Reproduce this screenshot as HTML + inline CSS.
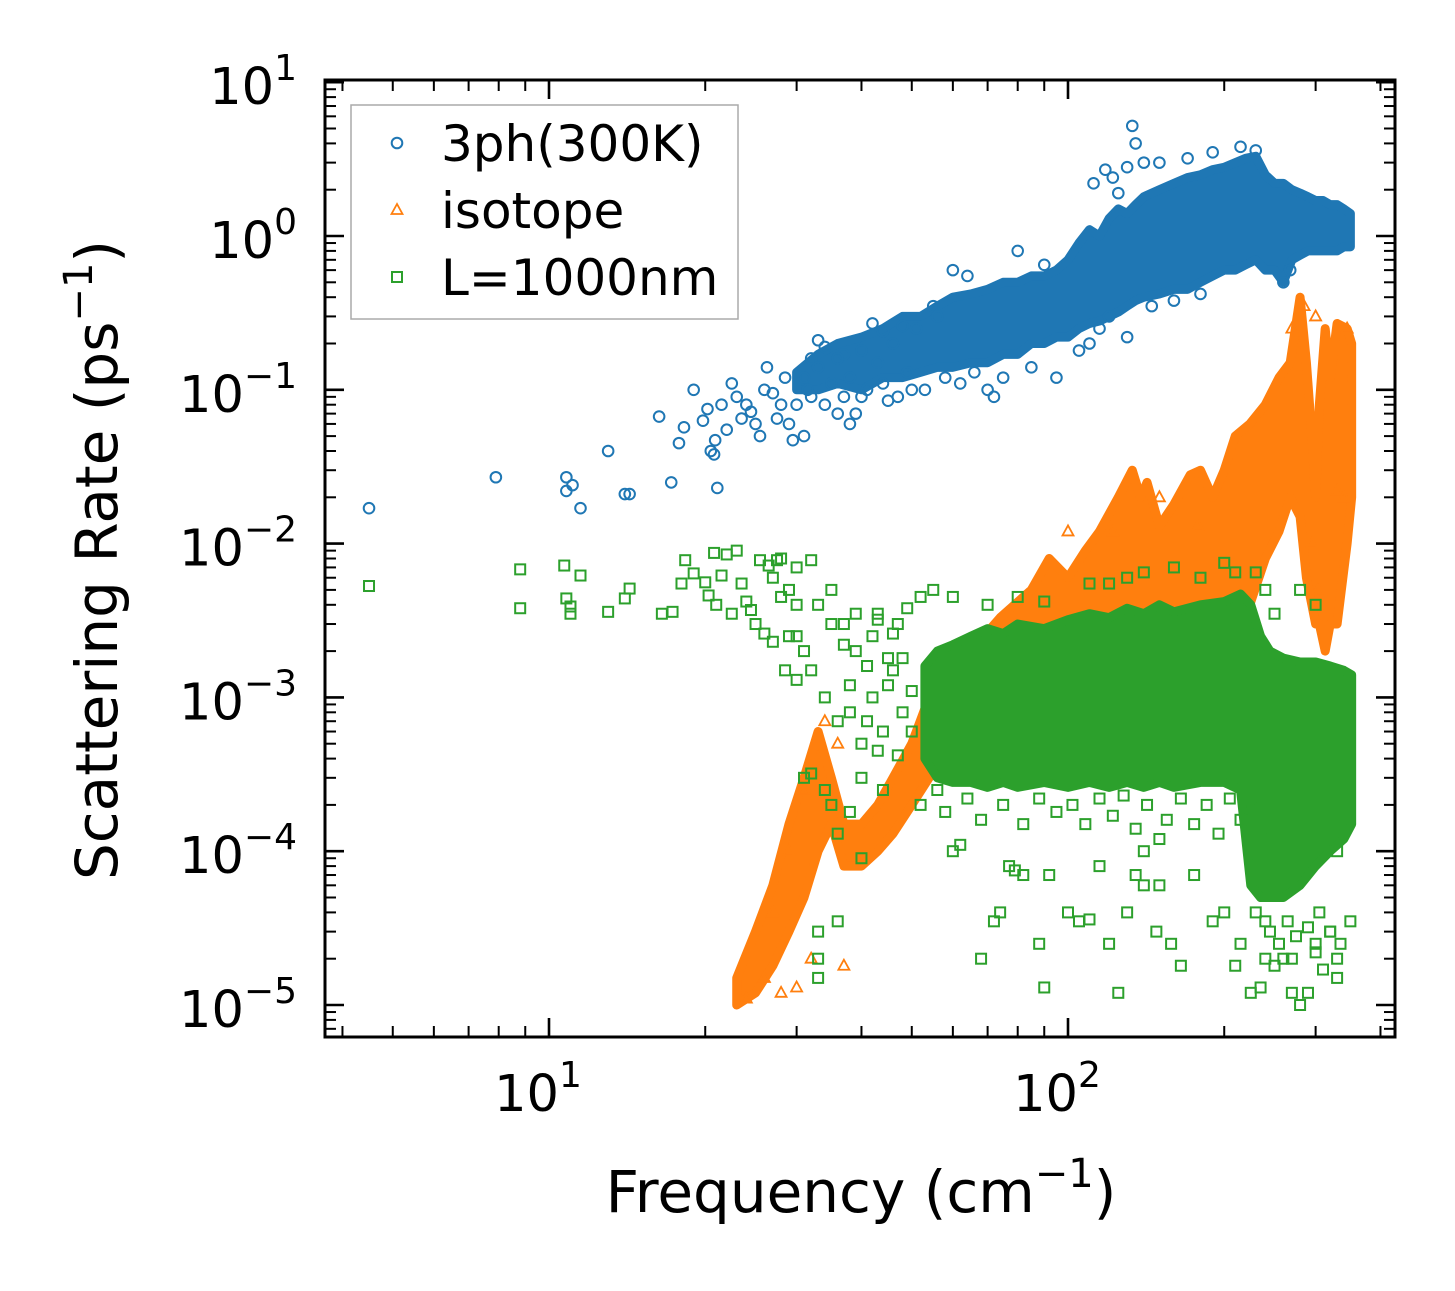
<!DOCTYPE html>
<html><head><meta charset="utf-8"><style>
html,body{margin:0;padding:0;background:#fff;}
svg text{font-family:"DejaVu Sans","Liberation Sans",sans-serif;fill:#000;}
</style></head><body>
<svg id="chart" width="1455" height="1286" viewBox="0 0 1455 1286" xmlns="http://www.w3.org/2000/svg">
<rect width="1455" height="1286" fill="#fff"/>
<g id="plot"></g>
<g id="axes"></g>
</svg>
<script>
// ---------- data ----------
const blueEnvF  = [30,33,36,40,44,48,52,56,60,65,70,75,80,85,90,95,100,105,110,115,120,125,130,135,140,150,160,170,180,190,200,210,220,230,240,250,260,270,280,290,300,310,320,330,340,350];
const blueEnvLo = [.1,.1,.11,.1,.12,.12,.13,.14,.14,.15,.15,.17,.17,.2,.2,.22,.22,.25,.27,.28,.3,.32,.35,.38,.4,.42,.45,.45,.5,.55,.6,.6,.65,.7,.6,.6,.5,.7,.75,.8,.8,.8,.8,.8,.85,.85];
const blueEnvHi = [.13,.17,.2,.22,.25,.3,.3,.35,.4,.42,.45,.5,.5,.55,.55,.6,.7,.9,1.1,1.0,1.3,1.5,1.4,1.6,1.8,2.0,2.2,2.4,2.5,2.7,2.8,3.0,3.2,3.3,2.5,2.2,2.2,2.0,1.9,1.8,1.7,1.7,1.6,1.6,1.5,1.4];
const bluePtsF = [4.5,7.9,10.8,10.8,11.1,11.5,13,14,14.3,16.3,17.2,17.8,18.2,19,19.8,20.2,20.5,20.8,20.9,21.1,21.5,22,22.5,23,23.5,24,24.5,25,25.5,26,26.3,27,27.5,28,28.5,29,29.5,30,31,31.5,32,33,
 112,118,122,130,133,135,140,125,150,170,190,215,230,260,268,95,85,72,60,64,80,70,50,45,40,38,36,42,55,90,130,34,37,44,48,
 31,32,33,34,35,36,37,38,39,40,41,43,44,46,47,49,51,53,56,58,62,66,75,110,115,120,105,145,160,180];
const bluePtsY = [0.017,0.027,0.027,0.022,0.024,0.017,0.04,0.021,0.021,0.067,0.025,0.045,0.057,0.1,0.063,0.075,0.04,0.038,0.047,0.023,0.08,0.055,0.11,0.09,0.065,0.08,0.072,0.06,0.05,0.1,0.14,0.095,0.065,0.08,0.12,0.06,0.047,0.08,0.05,0.1,0.16,0.21,
 2.2,2.7,2.4,2.8,5.2,4.0,3.0,1.9,3.0,3.2,3.5,3.8,3.6,0.5,0.6,0.12,0.14,0.09,0.6,0.55,0.8,0.1,0.1,0.085,0.09,0.06,0.07,0.27,0.35,0.65,0.22,0.19,0.17,0.24,0.26,
 0.12,0.09,0.14,0.08,0.11,0.16,0.09,0.12,0.07,0.18,0.1,0.15,0.11,0.2,0.09,0.13,0.25,0.1,0.3,0.12,0.11,0.13,0.12,0.2,0.25,0.3,0.18,0.35,0.38,0.42];

const orEnvF  = [23,25,27,29,31,33,35,37,40,43,46,50,54,58,65,74,85,92,100,108,115,125,133,138,142,150,160,172,180,190,200,210,224,240,255,268,280,288,295,300,305,313,320,330,345,352];
const orEnvLo = [1e-5,1.2e-5,1.8e-5,3e-5,5e-5,1e-4,1.5e-4,8e-5,8e-5,1e-4,1.3e-4,2e-4,3e-4,4e-4,5e-4,6e-4,8e-4,1e-3,1e-3,1.2e-3,1.5e-3,2e-3,2e-3,2e-3,2.5e-3,2.5e-3,3e-3,3e-3,3e-3,3.5e-3,4e-3,4e-3,4e-3,8e-3,1.2e-2,2e-2,1.5e-2,6e-3,4e-3,3e-3,3e-3,2e-3,3e-3,3e-3,1e-2,2e-2];
const orEnvHi = [1.5e-5,3e-5,6e-5,1.5e-4,3e-4,6e-4,3e-4,1.5e-4,1.5e-4,2e-4,3e-4,5e-4,1e-3,1.5e-3,2e-3,3.3e-3,5e-3,8e-3,6e-3,9e-3,1.2e-2,2e-2,3e-2,2e-2,2.5e-2,1.3e-2,1.8e-2,2.8e-2,3e-2,2e-2,3e-2,5e-2,6e-2,8e-2,1.2e-1,1.5e-1,4e-1,1.5e-1,5e-2,2e-2,8e-2,2.5e-1,1.2e-1,2.7e-1,2.5e-1,2e-1];
const orPtsF = [24,26,28,30,32,37,100,122,150,178,300,330,340,295,303,34,36,31,29,27,270,285,345];
const orPtsY = [1.1e-5,1.5e-5,1.2e-5,1.3e-5,2e-5,1.8e-5,0.012,0.012,0.02,0.013,0.3,0.022,0.02,0.01,0.005,7e-4,5e-4,2.5e-4,1e-4,4e-5,0.25,0.35,0.25];

const grEnvF  = [53,56,60,65,70,75,80,90,100,110,120,130,140,150,160,180,200,215,225,235,245,260,280,300,320,340,352];
const grEnvLo = [4e-4,3e-4,2.8e-4,2.8e-4,2.6e-4,2.8e-4,2.6e-4,2.8e-4,2.6e-4,2.8e-4,2.6e-4,2.8e-4,2.6e-4,2.8e-4,2.6e-4,2.8e-4,2.8e-4,2.5e-4,6e-5,5e-5,5e-5,5e-5,6e-5,8e-5,1e-4,1.2e-4,1.5e-4];
const grEnvHi = [1.6e-3,2e-3,2.2e-3,2.5e-3,2.8e-3,2.6e-3,3e-3,2.8e-3,3.2e-3,3.5e-3,3.3e-3,3.8e-3,3.5e-3,4e-3,3.6e-3,4e-3,4.2e-3,4.7e-3,4e-3,2.5e-3,2e-3,1.8e-3,1.7e-3,1.7e-3,1.6e-3,1.5e-3,1.4e-3];
const grPtsF = [4.5,8.8,8.8,10.7,10.8,11,11,11.5,13,14,14.3,16.5,17.3,18,18.3,19,20,20.3,20.8,21,21.5,22,22.5,23,23.5,24,24.5,25,25.5,26,26.5,27,27.5,28,28.5,29,30,31,
 33,33,33,36,40,60,62,68,72,74,77,79,82,88,90,92,100,105,110,115,120,125,130,135,140,148,150,158,165,175,190,200,210,215,225,235,240,250,260,270,280,290,300,310,330,320,330,300,260,150,140,
 60,80,110,130,140,160,200,230,250,280,300,35,30,32,28,
 30,31,32,34,35,36,38,40,41,42,44,46,48,50,30,32,34,36,38,39,42,45,47,33,37,43,29,27,
 52,56,58,64,68,75,82,88,95,102,108,115,122,128,135,142,155,165,175,185,195,205,215,225,235,
 35,37,39,41,43,44,46,48,49,50,47,45,43,40,38,52,55,70,90,120,180,210,240,
 230,245,255,265,275,290,305,320,335,350,240,270,300,330];
const grPtsY = [0.0053,0.0068,0.0038,0.0072,0.0044,0.0039,0.0035,0.0062,0.0036,0.0044,0.0051,0.0035,0.0036,0.0055,0.0078,0.0064,0.0056,0.0046,0.0087,0.004,0.0062,0.0085,0.0035,0.009,0.0055,0.0042,0.0037,0.003,0.0078,0.0026,0.0072,0.0023,0.0078,0.0045,0.0015,0.0025,0.004,0.002,
 3e-5,2e-5,1.5e-5,3.5e-5,9e-5,1e-4,1.1e-4,2e-5,3.5e-5,4e-5,8e-5,7.5e-5,7e-5,2.5e-5,1.3e-5,7e-5,4e-5,3.5e-5,3.6e-5,8e-5,2.5e-5,1.2e-5,4e-5,7e-5,6e-5,3e-5,6e-5,2.5e-5,1.8e-5,7e-5,3.5e-5,4e-5,1.8e-5,2.5e-5,1.2e-5,1.3e-5,3.5e-5,1.8e-5,2e-5,1.2e-5,1e-5,1.2e-5,2.5e-5,1.7e-5,1.5e-5,3e-5,1e-4,1.2e-4,9e-5,1.2e-4,1e-4,
 4.5e-3,4.5e-3,5.5e-3,6e-3,6.5e-3,7e-3,7.5e-3,6.5e-3,3.5e-3,5e-3,4e-3,5e-3,7e-3,7.8e-3,8e-3,
 1.3e-3,3e-4,3.2e-4,2.5e-4,2e-4,1.3e-4,1.8e-4,3e-4,7e-4,1e-3,2.5e-4,1.5e-3,8e-4,6e-4,2.5e-3,1.5e-3,1e-3,7e-4,1.2e-3,2e-3,2.5e-3,1.8e-3,3e-3,4e-3,3e-3,3.5e-3,5e-3,6e-3,
 2e-4,2.5e-4,1.8e-4,2.2e-4,1.6e-4,2e-4,1.5e-4,2.2e-4,1.8e-4,2e-4,1.5e-4,2.2e-4,1.7e-4,2.3e-4,1.4e-4,2e-4,1.6e-4,2.2e-4,1.5e-4,2e-4,1.3e-4,2.2e-4,1.6e-4,1.9e-4,1.2e-4,
 3e-3,2.2e-3,3.5e-3,1.6e-3,3.2e-3,6e-4,2.6e-3,1.8e-3,3.8e-3,1.1e-3,4.2e-4,1.2e-3,4.5e-4,5e-4,8e-4,4.5e-3,5e-3,4e-3,4.2e-3,5.5e-3,6e-3,6.5e-3,5e-3,
 4e-5,3e-5,2.5e-5,3.5e-5,2.8e-5,3.2e-5,4e-5,3e-5,2.5e-5,3.5e-5,2e-5,2e-5,2.2e-5,2e-5];

const xTickVals = [10,100];
const xTickExps = ['1','2'];
const yTickExps = [1,0,-1,-2,-3,-4,-5];

// ---------- axes ----------
const L=325,R=1395,T=80,B=1037;
const X=f=>549+519*(Math.log10(f)-1);
const Y=v=>236-153.8*Math.log10(v);
const NS='http://www.w3.org/2000/svg';
const plot=document.getElementById('plot'), axes=document.getElementById('axes');
function mk(tag,attrs,parent){const e=document.createElementNS(NS,tag);for(const k in attrs)e.setAttribute(k,attrs[k]);parent.appendChild(e);return e;}

const BLUE='#1f77b4',ORANGE='#ff7f0e',GREEN='#2ca02c';
function envelope(F,LO,HI,col,name){
  let d='M'+F.map((f,i)=>X(f)+','+Y(HI[i])).join(' L');
  for(let i=F.length-1;i>=0;i--) d+=' L'+X(F[i])+','+Y(LO[i]);
  const p=mk('path',{d:d+'Z',fill:col,stroke:col,'stroke-width':9,'stroke-linejoin':'round'},plot);
  
  
}
function marker(type,x,y,col){
  let e;
  if(type==='c') e=mk('circle',{cx:x,cy:y,r:5.3,fill:'none',stroke:col,'stroke-width':2},plot);
  else if(type==='s') e=mk('rect',{x:x-5,y:y-5,width:10,height:10,fill:'none',stroke:col,'stroke-width':2},plot);
  else e=mk('polygon',{points:`${x},${y-6} ${x-5.5},${y+4} ${x+5.5},${y+4}`,fill:'none',stroke:col,'stroke-width':1.8},plot);
  return e;
}
envelope(blueEnvF,blueEnvLo,blueEnvHi,BLUE,'3ph-dense-region');
bluePtsF.forEach((f,i)=>{const e=marker('c',X(f),Y(bluePtsY[i]),BLUE);
  
  });
envelope(orEnvF,orEnvLo,orEnvHi,ORANGE,'isotope-dense-region');
orPtsF.forEach((f,i)=>{const e=marker('t',X(f),Y(orPtsY[i]),ORANGE);
  
  });
envelope(grEnvF,grEnvLo,grEnvHi,GREEN,'boundary-dense-region');
grPtsF.forEach((f,i)=>{const e=marker('s',X(f),Y(grPtsY[i]),GREEN);
  
  });

// ticks
function line(x1,y1,x2,y2,w){mk('line',{x1,y1,x2,y2,stroke:'#000','stroke-width':w},axes);}
for(let dec=0;dec<3;dec++){for(let m=1;m<10;m++){const f=Math.pow(10,dec)*m;const x=X(f);if(x<L||x>R)continue;
  const len=m===1?19:11,w=m===1?2.6:2;line(x,B,x,B-len,w);line(x,T,x,T+len,w);}}
for(let e=-6;e<=1;e++){for(let m=1;m<10;m++){const v=m*Math.pow(10,e);const y=Y(v);if(y<T-0.5||y>B)continue;
  const len=m===1?19:11,w=m===1?2.6:2;line(L,y,L+len,y,w);line(R,y,R-len,y,w);}}
mk('rect',{x:L,y:T,width:R-L,height:B-T,fill:'none',stroke:'#000','stroke-width':3},axes);

xTickVals.forEach((v,i)=>{const t=mk('text',{x:X(v)-11,y:1111,'font-size':51,'text-anchor':'middle'},axes);
  
  
  t.textContent='10';const s=mk('tspan',{dy:-24,'font-size':36},t);s.textContent=xTickExps[i];});
yTickExps.forEach(e=>{const t=mk('text',{x:297,y:Y(Math.pow(10,e))+22,'font-size':51,'text-anchor':'end'},axes);
  
  
  const a=mk('tspan',{},t);a.textContent='10';
  const s=mk('tspan',{dy:-24,'font-size':36},t);s.textContent=e<0?'\u2212'+(-e):String(e);});
</script>
<svg style="position:absolute;left:0;top:0" width="1455" height="1286" xmlns="http://www.w3.org/2000/svg">
<text x="861" y="1212" font-size="58" text-anchor="middle">Frequency (cm<tspan dy="-25" font-size="40">−1</tspan><tspan dy="25">)</tspan></text>
<text transform="translate(117,560) rotate(-90)" font-size="58" text-anchor="middle">Scattering Rate (ps<tspan dy="-25" font-size="40">−1</tspan><tspan dy="25">)</tspan></text>
<g>
<rect x="351" y="105" width="387" height="214" fill="#fff" fill-opacity="0.8" stroke="#aaa" stroke-width="1.5"/>
<g><circle cx="397" cy="143" r="5.3" fill="none" stroke="#1f77b4" stroke-width="2"/><text x="441" y="161" font-size="50">3ph(300K)</text></g>
<g><polygon points="397,204 391.5,214 402.5,214" fill="none" stroke="#ff7f0e" stroke-width="1.8"/><text x="441" y="228" font-size="50">isotope</text></g>
<g><rect x="392" y="272" width="10" height="10" fill="none" stroke="#2ca02c" stroke-width="2"/><text x="441" y="295" font-size="50">L=1000nm</text></g>
</g>
</svg>
</body></html>
